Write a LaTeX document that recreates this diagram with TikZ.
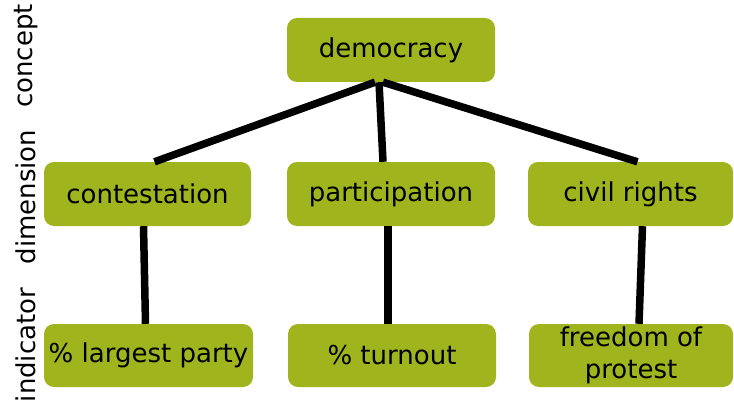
\documentclass[tikz,border=0pt]{standalone}
\usepackage{fontspec}
\setmainfont{DejaVu Sans}
\usetikzlibrary{positioning}
\definecolor{olive}{HTML}{A0B41E}
\begin{document}
\begin{tikzpicture}[x=1pt, y=-1pt,
      box/.style={fill=olive, rounded corners=10pt, minimum width=207pt,
         minimum height=64pt, inner sep=0pt, align=center,
         font=\fontsize{26}{32}\selectfont},
      level/.style={rotate=90, font=\fontsize{26}{30}\selectfont},
      link/.style={line width=7.5pt}]
   \useasboundingbox (0, 0) rectangle (734, 404);
   % levels on the left
   \node[level] (lconcept) at (26, 56) {concept};
   \node[level] (ldimension) at (26, 197) {dimension};
   \node[level] (lindicator) at (26, 345) {indicator};
   % concept
   \node[box, minimum width=208pt] (dem) at (391, 50) {democracy};
   % dimensions
   \node[box] (con) at (147.5, 194) {contestation};
   \node[box, minimum width=208pt] (par) at (391, 194) {participation};
   \node[box, minimum width=205pt] (civ) at (630.5, 194) {civil rights};
   % indicators
   \node[box, minimum width=209pt, minimum height=63pt] (lar) at (148.5, 355.5) {\% largest party};
   \node[box, minimum width=208pt, minimum height=63pt] (tur) at (392, 355.5) {\% turnout};
   \node[box, minimum width=204pt, minimum height=63pt] (fre) at (631, 355.5) {freedom of\\protest};
   % links
   \draw[link] ([xshift=-16pt]dem.south) -- ([xshift=7pt]con.north);
   \draw[link] ([xshift=-12pt]dem.south) -- ([xshift=-8pt]par.north);
   \draw[link] ([xshift=-8pt]dem.south) -- ([xshift=7pt]civ.north);
   \draw[link] ([xshift=-4pt]con.south) -- ([xshift=-3pt]lar.north);
   \draw[link] ([xshift=-3pt]par.south) -- ([xshift=-4pt]tur.north);
   \draw[link] ([xshift=12pt]civ.south) -- ([xshift=8pt]fre.north);
\end{tikzpicture}
\end{document}
